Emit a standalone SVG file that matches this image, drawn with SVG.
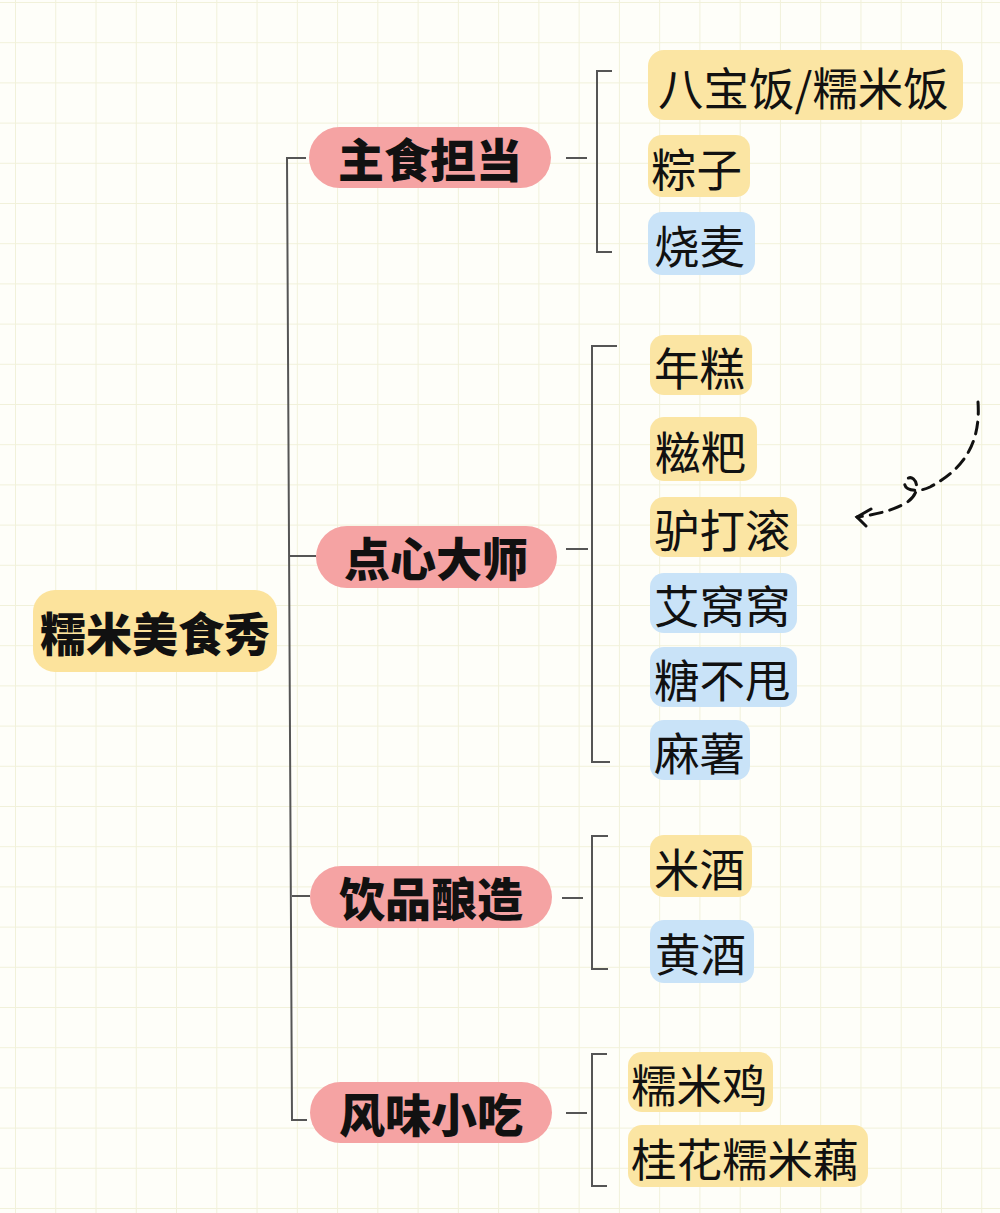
<svg xmlns="http://www.w3.org/2000/svg" width="1000" height="1213" viewBox="0 0 1000 1213">
<defs>
<pattern id="grid" x="15" y="2" width="40.26" height="40.2" patternUnits="userSpaceOnUse">
<path d="M0,0 H40.26 M0,0 V40.2" fill="none" stroke="#f1f1da" stroke-width="2"/>
</pattern>
<style>
.t{font-family:"Noto Sans CJK SC","Noto Sans",sans-serif;fill:#111;dominant-baseline:central}
.leaf{font-size:45.5px;font-weight:400}
.cat{font-size:46px;font-weight:900;text-anchor:middle}
.root{font-size:46px;font-weight:900;text-anchor:middle}
.y{fill:#fbe5a3}
.b{fill:#c9e3f8}
.p{fill:#f5a3a3}
.ln{fill:none;stroke:#555;stroke-width:2}
</style>
</defs>
<rect width="1000" height="1213" fill="#fefef9"/>
<rect width="1000" height="1213" fill="url(#grid)"/>

<g id="connectors">
<path class="ln" d="M306,158 H287 L292,1120 H307"/>
<path class="ln" d="M290,556 H316"/>
<path class="ln" d="M292,896 H310"/>
<path class="ln" d="M566,158 H587 M612,71 H597 V252 H612"/>
<path class="ln" d="M566,549 H588 M617,346 H592 V762 H610"/>
<path class="ln" d="M562,898 H583 M608,836 H592 V969 H608"/>
<path class="ln" d="M566,1113 H587 M607,1054 H592 V1186 H607"/>
<g id="arrow" fill="none" stroke="#111" stroke-width="3" stroke-linecap="round">
<path d="M978,402 C981,445 962,470 930,487 C916,494 900,489 906,480 C913,471 926,490 906,503 C890,512 872,515 857,517" stroke-dasharray="12 8"/>
<path d="M871,509 L857,517 L866,526"/>
</g>
</g>

<g id="root"><rect x="33" y="590" width="244" height="82" rx="22" style="fill:#fce39c"/><text class="t root" x="155" y="631">糯米美食秀</text></g>

<g id="cat1"><rect x="309" y="127" width="242" height="61" rx="30.5" class="p"/><text class="t cat" x="430" y="157">主食担当</text></g>
<g id="cat2"><rect x="316" y="526" width="241" height="62" rx="31" class="p"/><text class="t cat" x="436" y="556">点心大师</text></g>
<g id="cat3"><rect x="310" y="866" width="242" height="62" rx="31" class="p"/><text class="t cat" x="431" y="896">饮品酿造</text></g>
<g id="cat4"><rect x="310" y="1082" width="242" height="61" rx="30.5" class="p"/><text class="t cat" x="431" y="1112">风味小吃</text></g>

<g id="n1"><rect x="648" y="50" width="315" height="70" rx="16" class="y"/><text class="t leaf" x="658" y="86">八宝饭/糯米饭</text></g>
<g id="n2"><rect x="648" y="135" width="102" height="62" rx="14" class="y"/><text class="t leaf" x="651" y="167">粽子</text></g>
<g id="n3"><rect x="648" y="212" width="107" height="63" rx="14" class="b"/><text class="t leaf" x="654" y="244">烧麦</text></g>
<g id="n4"><rect x="650" y="335" width="102" height="60" rx="14" class="y"/><text class="t leaf" x="654" y="366">年糕</text></g>
<g id="n5"><rect x="650" y="417" width="107" height="64" rx="14" class="y"/><text class="t leaf" x="655" y="450">糍粑</text></g>
<g id="n6"><rect x="650" y="497" width="147" height="60" rx="14" class="y"/><text class="t leaf" x="654" y="528">驴打滚</text></g>
<g id="n7"><rect x="650" y="573" width="147" height="60" rx="14" class="b"/><text class="t leaf" x="654" y="604">艾窝窝</text></g>
<g id="n8"><rect x="650" y="647" width="147" height="60" rx="14" class="b"/><text class="t leaf" x="654" y="678">糖不甩</text></g>
<g id="n9"><rect x="650" y="720" width="100" height="60" rx="14" class="b"/><text class="t leaf" x="654" y="751">麻薯</text></g>
<g id="n10"><rect x="650" y="835" width="102" height="62" rx="14" class="y"/><text class="t leaf" x="654" y="867">米酒</text></g>
<g id="n11"><rect x="650" y="920" width="104" height="63" rx="14" class="b"/><text class="t leaf" x="655" y="952">黄酒</text></g>
<g id="n12"><rect x="628" y="1052" width="145" height="60" rx="14" class="y"/><text class="t leaf" x="631" y="1083">糯米鸡</text></g>
<g id="n13"><rect x="628" y="1125" width="240" height="62" rx="14" class="y"/><text class="t leaf" x="631" y="1157">桂花糯米藕</text></g>
</svg>
